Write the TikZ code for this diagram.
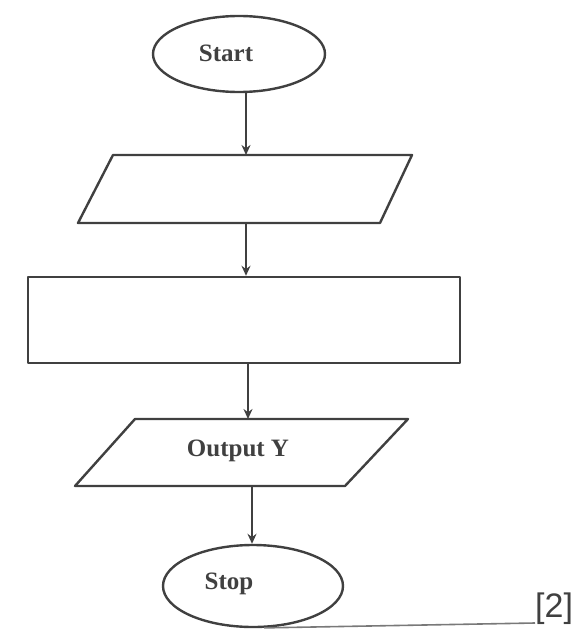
\documentclass[tikz,border=0pt]{standalone}
\usepackage{fontspec}
\setmainfont{Liberation Serif}
\newfontfamily\marksans{Liberation Sans}
\usetikzlibrary{shapes.geometric,arrows.meta}
\definecolor{ink}{gray}{0.25}
\tikzset{
  outline/.style={draw=ink, line width=2.4pt, line join=round},
  flow/.style={draw=ink, line width=2pt, -{Stealth[length=10pt,width=9pt]}},
  oval/.style={outline, ellipse, inner sep=0pt},
  label/.style={text=ink, font=\bfseries\fontsize{25}{28}\selectfont, inner sep=0pt},
}
\begin{document}
\begin{tikzpicture}[x=1pt,y=-1pt]
\useasboundingbox (0,0) rectangle (587,637);
% Start
\node[oval, minimum width=172pt, minimum height=76pt] (start) at (239,54) {};
\node[label] (starttxt) at (226,53) {Start};
% Input parallelogram
\coordinate (p1a) at (113,155);
\coordinate (p1b) at (412,155);
\coordinate (p1c) at (380,223);
\coordinate (p1d) at (78,223);
\draw[outline] (p1a) -- (p1b) -- (p1c) -- (p1d) -- cycle;
\coordinate (p1in) at (246,155);
\coordinate (p1out) at (246,223);
% Process rectangle
\node[outline, rectangle, minimum width=432pt, minimum height=86pt, inner sep=0pt] (proc) at (244,320) {};
% Output parallelogram
\coordinate (p2a) at (135,419);
\coordinate (p2b) at (408,419);
\coordinate (p2c) at (345,486);
\coordinate (p2d) at (75,486);
\draw[outline] (p2a) -- (p2b) -- (p2c) -- (p2d) -- cycle;
\coordinate (p2in) at (248,419);
\coordinate (p2out) at (252,486);
\node[label] (outtxt) at (238,451) {Output Y};
% Stop
\node[oval, minimum width=180pt, minimum height=82pt] (stop) at (253,586) {};
\node[label] (stoptxt) at (229,584) {Stop};
% Marks
\node[text=ink, font=\marksans\fontsize{34}{36}\selectfont, inner sep=0pt, anchor=west] (mark) at (535,609) {[2]};
\coordinate (marklink) at (535,623);
% Connectors
\draw[flow] (start.south -| p1in) -- (p1in);
\draw[flow] (p1out) -- (p1out |- proc.north);
\draw[flow] (proc.south -| p2in) -- (p2in);
\draw[flow] (p2out) -- (p2out |- stop.north);
\draw[draw=ink!70, line width=1.6pt] (stop.-75) -- (marklink);
\end{tikzpicture}
\end{document}
